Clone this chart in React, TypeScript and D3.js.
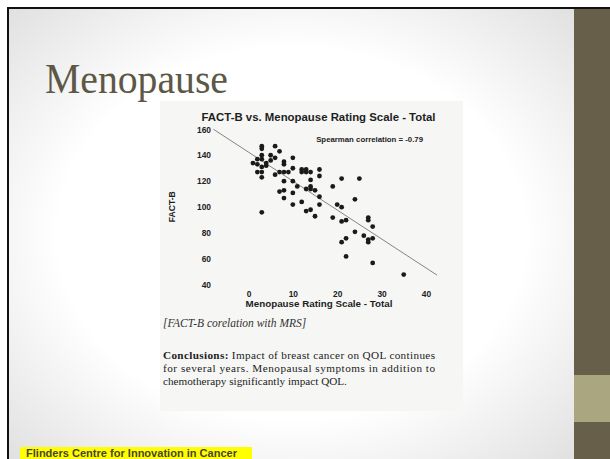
import React, { useEffect, useRef } from 'react';
import * as d3 from 'd3';

// Menopause Rating Scale total (x) and FACT-B (y)
const mrsValues = [1, 2, 2, 2, 3, 3, 3, 3, 3, 3, 3, 3, 4, 4, 5, 5, 6, 6, 6, 7, 7, 7, 8, 8, 8, 8, 8, 8, 9, 10, 10, 10, 10, 10,
  11, 12, 12, 12, 13, 13, 13, 13, 14, 14, 14, 14, 14, 15, 15, 16, 16, 16, 16, 19, 19, 20, 21, 21, 21, 21, 22, 22, 22, 24, 24, 25, 26, 27, 27, 27, 27, 28, 28, 28, 35];
const factBValues = [134, 137, 133, 127, 147, 145, 140, 137, 131, 127, 123, 96, 134, 132, 140, 136, 147, 138, 125, 143, 127, 112, 135, 133, 127, 120, 113, 107, 127, 138, 130, 120, 111, 102,
  116, 129, 127, 104, 129, 127, 114, 97, 127, 121, 116, 114, 98, 113, 93, 129, 124, 108, 102, 116, 92, 102, 122, 100, 89, 73, 90, 76, 62, 106, 81, 122, 78, 92, 90, 75, 73, 85, 76, 57, 48];

const xTicks = [0, 10, 20, 30, 40];
const yTicks = [40, 60, 80, 100, 120, 140, 160];

// fitted line (spearman = -0.79)
const fitIntercept = 142.4;
const fitSlope = -2.23;

const conclusionLines = [
  'Impact of breast cancer on QOL continues',
  'for several years. Menopausal symptoms in addition to',
  'chemotherapy significantly impact QOL.',
];

const App: React.FC = () => {
  const svgRef = useRef<SVGSVGElement | null>(null);

  useEffect(() => {
    const svg = d3.select(svgRef.current);
    svg.selectAll('*').remove();

    const width = 610;
    const height = 459;

    const defs = svg.append('defs');
    const grad = defs.append('radialGradient').attr('id', 'slideBg')
      .attr('cx', '50%').attr('cy', '50%').attr('r', '75%');
    grad.append('stop').attr('offset', '0%').attr('stop-color', '#ffffff');
    grad.append('stop').attr('offset', '55%').attr('stop-color', '#ffffff');
    grad.append('stop').attr('offset', '100%').attr('stop-color', '#dcdcdc');

    // page + slide background
    svg.append('rect').attr('width', width).attr('height', height).attr('fill', '#ffffff');
    svg.append('rect').attr('x', 9).attr('y', 9).attr('width', 565).attr('height', 450).attr('fill', 'url(#slideBg)');
    svg.append('rect').attr('x', 7).attr('y', 7).attr('width', width - 7).attr('height', 2).attr('fill', '#111');
    svg.append('rect').attr('x', 7).attr('y', 7).attr('width', 2).attr('height', height - 7).attr('fill', '#111');

    // right side band
    svg.append('rect').attr('x', 574).attr('y', 9).attr('width', 36).attr('height', 450).attr('fill', '#675f49');
    svg.append('rect').attr('x', 574).attr('y', 375).attr('width', 36).attr('height', 47).attr('fill', '#a9a680');

    // slide title
    svg.append('text')
      .attr('x', 45).attr('y', 93)
      .attr('textLength', 183).attr('lengthAdjust', 'spacingAndGlyphs')
      .style('font-family', '"Liberation Serif", "DejaVu Serif", serif')
      .style('font-size', '42px')
      .attr('fill', '#5d5846')
      .text('Menopause');

    // scanned figure
    svg.append('rect').attr('x', 160).attr('y', 101).attr('width', 303).attr('height', 310).attr('fill', '#f6f7f5');

    const xScale = d3.scaleLinear().domain([-8, 42.5]).range([213, 437]);
    const yScale = d3.scaleLinear().domain([40, 160]).range([285, 129.3]);

    svg.append('text')
      .attr('x', 318.5).attr('y', 121)
      .attr('text-anchor', 'middle')
      .style('font-family', '"Liberation Sans", Arial, sans-serif')
      .style('font-weight', 'bold').style('font-size', '11.4px')
      .attr('fill', '#1e1e1e')
      .text('FACT-B vs. Menopause Rating Scale - Total');

    // axes (no lines visible in the scan, only labels)
    const yAxis = svg.append('g')
      .attr('transform', 'translate(211,0)')
      .call(d3.axisLeft(yScale).tickValues(yTicks).tickSize(0).tickPadding(0));
    yAxis.select('.domain').remove();
    yAxis.selectAll('text')
      .style('font-family', '"Liberation Sans", Arial, sans-serif')
      .style('font-weight', 'bold').style('font-size', '8.4px')
      .attr('fill', '#222');

    const xAxis = svg.append('g')
      .attr('transform', 'translate(0,291)')
      .call(d3.axisBottom(xScale).tickValues(xTicks).tickSize(0).tickPadding(0));
    xAxis.select('.domain').remove();
    xAxis.selectAll('text')
      .style('font-family', '"Liberation Sans", Arial, sans-serif')
      .style('font-weight', 'bold').style('font-size', '8.4px')
      .attr('fill', '#222');

    svg.append('text')
      .attr('x', 319).attr('y', 307)
      .attr('text-anchor', 'middle')
      .style('font-family', '"Liberation Sans", Arial, sans-serif')
      .style('font-weight', 'bold').style('font-size', '9.8px')
      .attr('fill', '#1e1e1e')
      .text('Menopause Rating Scale - Total');

    svg.append('text')
      .attr('transform', 'translate(175,206.7) rotate(-90)')
      .attr('text-anchor', 'middle')
      .style('font-family', '"Liberation Sans", Arial, sans-serif')
      .style('font-weight', 'bold').style('font-size', '8.6px')
      .attr('fill', '#1e1e1e')
      .text('FACT-B');

    svg.append('text')
      .attr('x', 423).attr('y', 142)
      .attr('text-anchor', 'end')
      .style('font-family', '"Liberation Sans", Arial, sans-serif')
      .style('font-weight', 'bold').style('font-size', '7.8px')
      .attr('fill', '#222')
      .text('Spearman correlation = -0.79');

    // regression line
    const fitX = [-7.9, 42.5];
    const line = d3.line<number>()
      .x((d) => xScale(d))
      .y((d) => yScale(fitIntercept + fitSlope * d));
    svg.append('path')
      .attr('d', line(fitX))
      .attr('fill', 'none')
      .attr('stroke', '#777')
      .attr('stroke-width', 0.9);

    // points
    svg.append('g')
      .selectAll('circle')
      .data(mrsValues.map((x, i) => ({ x, y: factBValues[i] })))
      .enter()
      .append('circle')
      .attr('cx', (d) => xScale(d.x))
      .attr('cy', (d) => yScale(d.y))
      .attr('r', 2.4)
      .attr('fill', '#1a1a1a');

    // caption + conclusions
    svg.append('text')
      .attr('x', 163).attr('y', 327)
      .style('font-family', '"Liberation Serif", serif')
      .style('font-style', 'italic').style('font-size', '11.5px')
      .attr('fill', '#333')
      .text('[FACT-B corelation with MRS]');

    const conc = svg.append('g')
      .style('font-family', '"Liberation Serif", serif')
      .style('font-size', '11.2px')
      .attr('fill', '#222');
    const first = conc.append('text').attr('x', 163).attr('y', 359)
      .attr('textLength', 272).attr('lengthAdjust', 'spacing');
    first.append('tspan').style('font-weight', 'bold').text('Conclusions: ');
    first.append('tspan').text(conclusionLines[0]);
    conc.append('text').attr('x', 163).attr('y', 372)
      .attr('textLength', 272).attr('lengthAdjust', 'spacing')
      .text(conclusionLines[1]);
    conc.append('text').attr('x', 163).attr('y', 385)
      .text(conclusionLines[2]);

    // footer tag
    svg.append('rect').attr('x', 20).attr('y', 447).attr('width', 232).attr('height', 12).attr('fill', '#ffff00');
    svg.append('text')
      .attr('x', 26).attr('y', 456.5)
      .attr('textLength', 211).attr('lengthAdjust', 'spacingAndGlyphs')
      .style('font-family', '"Liberation Sans Narrow", "Liberation Sans", sans-serif')
      .style('font-weight', 'bold').style('font-size', '10px')
      .attr('fill', '#4a4535')
      .text('Flinders Centre for Innovation in Cancer');
  }, []);

  return (
    <div style={{ position: 'absolute', left: 0, top: 0 }}>
      <svg ref={svgRef} width={610} height={459} style={{ display: 'block' }}></svg>
    </div>
  );
};

export default App;
